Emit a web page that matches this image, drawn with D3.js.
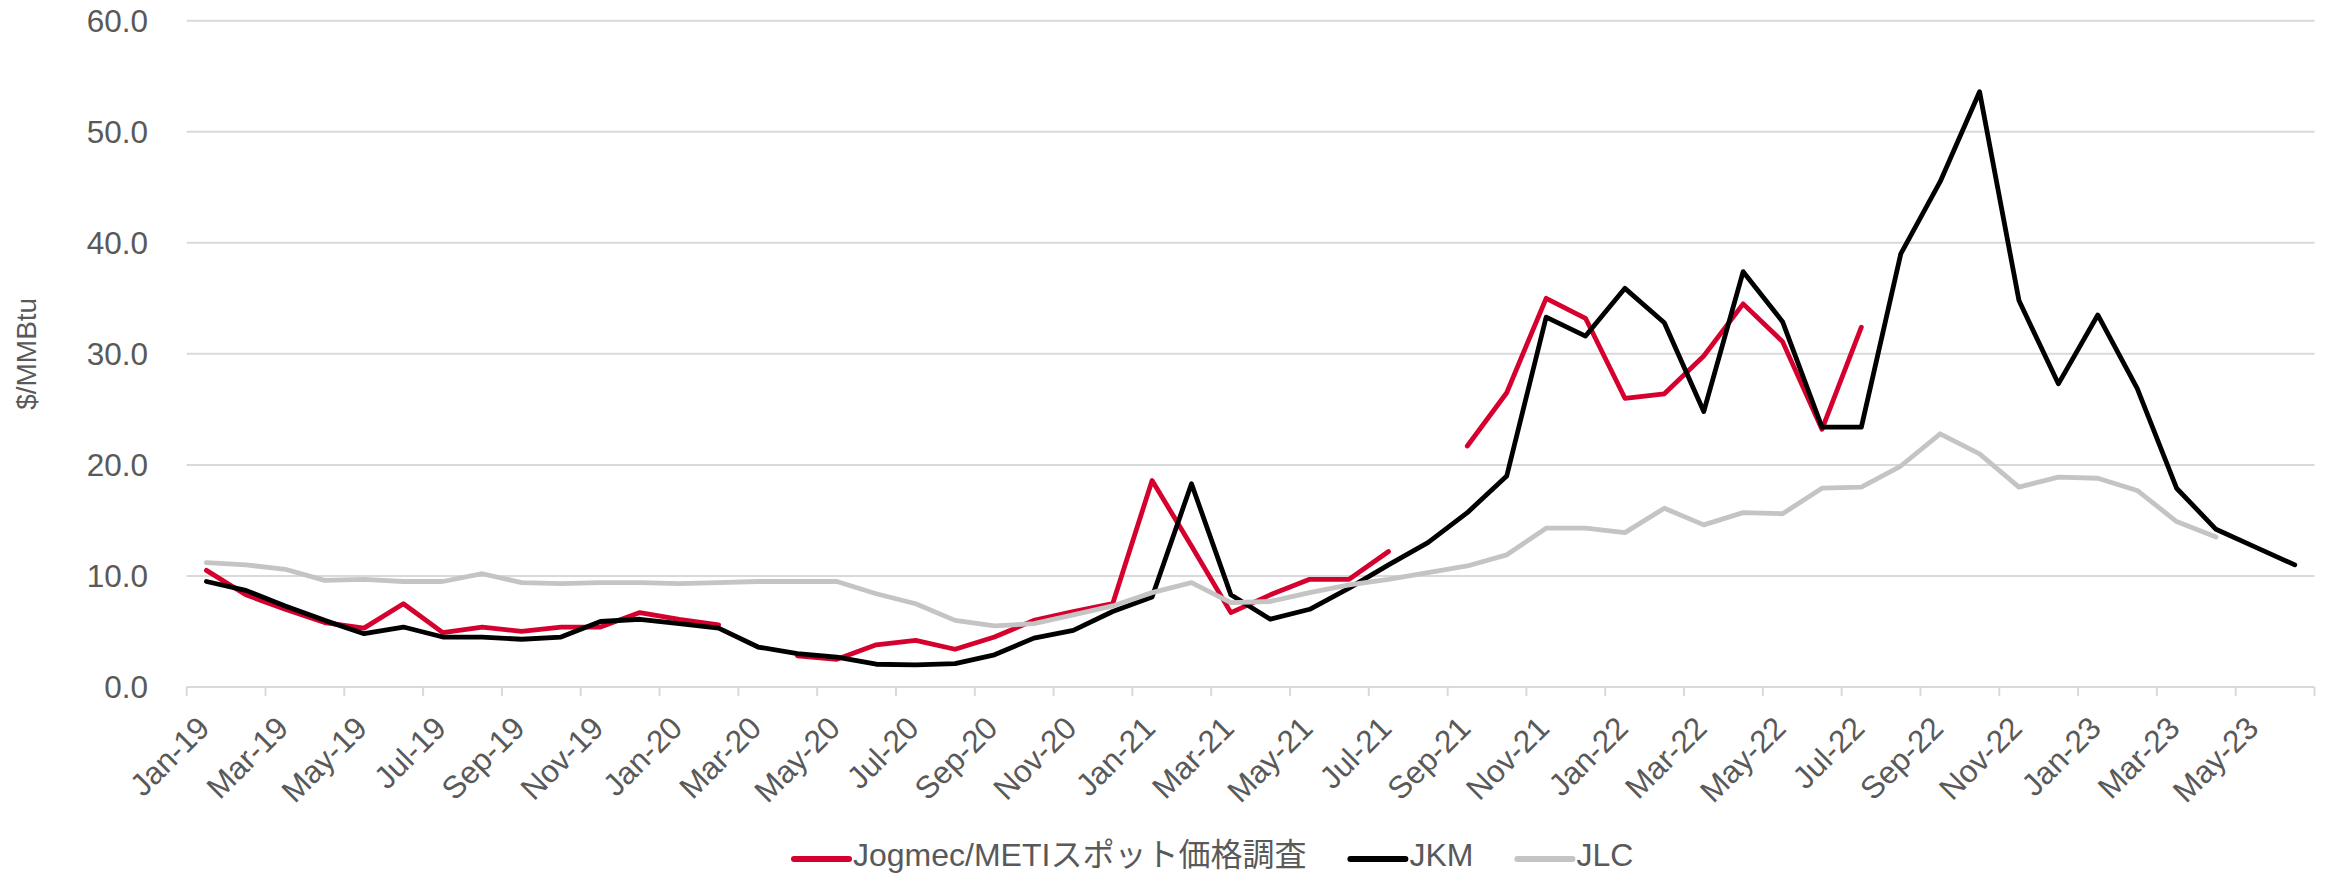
<!DOCTYPE html>
<html>
<head>
<meta charset="utf-8">
<script src="https://cdn.jsdelivr.net/npm/d3@7"></script>
<style>
  html, body { margin: 0; padding: 0; background: #ffffff; }
  svg { display: block; }
  text { font-family: "Liberation Sans", Arial, "Noto Sans CJK JP", sans-serif; fill: #595959; }
</style>
</head>
<body>
<script>
const months = ["Jan-19","Feb-19","Mar-19","Apr-19","May-19","Jun-19","Jul-19","Aug-19","Sep-19","Oct-19","Nov-19","Dec-19",
  "Jan-20","Feb-20","Mar-20","Apr-20","May-20","Jun-20","Jul-20","Aug-20","Sep-20","Oct-20","Nov-20","Dec-20",
  "Jan-21","Feb-21","Mar-21","Apr-21","May-21","Jun-21","Jul-21","Aug-21","Sep-21","Oct-21","Nov-21","Dec-21",
  "Jan-22","Feb-22","Mar-22","Apr-22","May-22","Jun-22","Jul-22","Aug-22","Sep-22","Oct-22","Nov-22","Dec-22",
  "Jan-23","Feb-23","Mar-23","Apr-23","May-23","Jun-23"];

const jogmec = [10.5,8.3,7.0,5.8,5.3,7.5,4.9,5.4,5.0,5.4,5.4,6.7,
  6.1,5.6,null,2.8,2.5,3.8,4.2,3.4,4.5,6.0,6.8,7.5,
  18.6,12.7,6.7,8.3,9.7,9.7,12.2,null,21.7,26.5,35.0,33.2,
  26.0,26.4,29.8,34.5,31.1,23.2,32.4,null,null,null,null,null,
  null,null,null,null,null,null];

const jkm = [9.5,8.7,7.3,6.0,4.8,5.4,4.5,4.5,4.3,4.5,5.9,6.1,
  5.7,5.3,3.6,3.0,2.7,2.05,2.0,2.1,2.9,4.4,5.1,6.8,
  8.1,18.3,8.3,6.1,7.0,8.9,11.0,13.0,15.7,19.0,33.3,31.6,
  35.9,32.8,24.8,37.4,32.9,23.4,23.4,39.0,45.5,53.6,34.8,27.3,
  33.5,26.9,17.9,14.2,12.6,11.0];

const jlc = [11.2,11.0,10.6,9.6,9.7,9.5,9.5,10.2,9.4,9.3,9.4,9.4,
  9.3,9.4,9.5,9.5,9.5,8.4,7.5,6.0,5.5,5.7,6.5,7.3,
  8.5,9.4,7.6,7.7,8.5,9.2,9.7,10.3,10.9,11.9,14.3,14.3,
  13.9,16.1,14.6,15.7,15.6,17.9,18.0,19.9,22.8,21.0,18.0,18.9,
  18.8,17.7,14.9,13.5,null,null];

const seriesNames = ["Jogmec/METIスポット価格調査", "JKM", "JLC"];
const seriesColors = ["#d6002f", "#000000", "#c4c4c4"];
const yTicks = [0, 10, 20, 30, 40, 50, 60];
const yTitle = "$/MMBtu";

(function () {
const W = 2331, H = 873;
const pLeft = 186.7, pRight = 2314.5, pTop = 20.7, pBottom = 687;

const svg = d3.select("body").append("svg").attr("width", W).attr("height", H);

const x = d3.scaleBand().domain(months).range([pLeft, pRight]).paddingInner(0).paddingOuter(0);
const y = d3.scaleLinear().domain([0, 60]).range([pBottom, pTop]);
const cx = m => x(m) + x.bandwidth() / 2;

// gridlines
svg.append("g").selectAll("line").data(yTicks.filter(t => t > 0)).join("line")
  .attr("x1", pLeft).attr("x2", pRight)
  .attr("y1", d => y(d)).attr("y2", d => y(d))
  .attr("stroke", "#d9d9d9").attr("stroke-width", 2);

// y axis labels
svg.append("g").selectAll("text").data(yTicks).join("text")
  .attr("x", 148).attr("y", d => y(d)).attr("dy", "0.35em")
  .attr("text-anchor", "end").style("font-size", "31.5px")
  .text(d => d3.format(".1f")(d));

// y title
svg.append("text")
  .attr("transform", `translate(36,${(pTop + pBottom) / 2}) rotate(-90)`)
  .attr("text-anchor", "middle").style("font-size", "28px")
  .text(yTitle);

// x axis line
svg.append("line").attr("x1", pLeft).attr("x2", pRight).attr("y1", pBottom).attr("y2", pBottom)
  .attr("stroke", "#d9d9d9").attr("stroke-width", 2);

// tick marks at every other category boundary
const boundaries = months.filter((m, i) => i % 2 === 0).map(m => x(m)).concat([pRight]);
svg.append("g").selectAll("line").data(boundaries).join("line")
  .attr("x1", d => d).attr("x2", d => d).attr("y1", pBottom).attr("y2", pBottom + 9)
  .attr("stroke", "#d9d9d9").attr("stroke-width", 2);

// x labels
const labelMonths = months.filter((m, i) => i % 2 === 0);
svg.append("g").selectAll("text").data(labelMonths).join("text")
  .attr("transform", d => `translate(${cx(d) + 5},${pBottom + 43}) rotate(-45)`)
  .attr("text-anchor", "end").style("font-size", "31.5px")
  .text(d => d);

// lines
const allSeries = [jogmec, jkm, jlc];
const line = d3.line()
  .defined(d => d.v !== null)
  .x(d => cx(d.m))
  .y(d => y(d.v));

allSeries.forEach((vals, si) => {
  const data = months.map((m, i) => ({ m, v: vals[i] }));
  svg.append("path").datum(data)
    .attr("d", line)
    .attr("fill", "none")
    .attr("stroke", seriesColors[si])
    .attr("stroke-width", 4.8)
    .attr("stroke-linejoin", "round")
    .attr("stroke-linecap", "round");
});

// legend
let lx = 794;
const ly = 866;
seriesNames.forEach((name, i) => {
  svg.append("line").attr("x1", lx).attr("x2", lx + 55).attr("y1", ly - 7).attr("y2", ly - 7)
    .attr("stroke", seriesColors[i]).attr("stroke-width", 6).attr("stroke-linecap", "round");
  const t = svg.append("text").attr("x", lx + 59).attr("y", ly)
    .style("font-size", "32px").text(name);
  const w = t.node().getComputedTextLength();
  lx = lx + 59 + w + 44;
});
})();
</script>
</body>
</html>
